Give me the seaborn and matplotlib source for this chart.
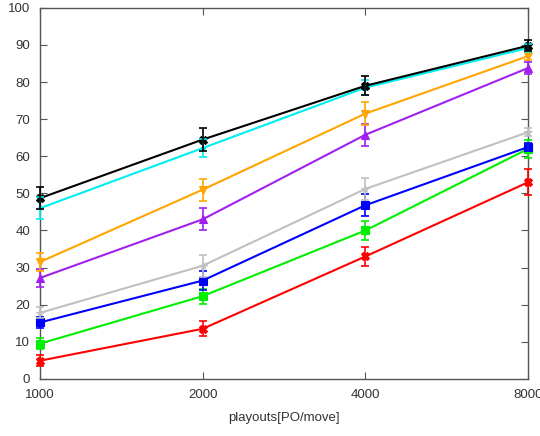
import matplotlib
matplotlib.use("Agg")
import matplotlib.pyplot as plt
import seaborn as sns
import pandas as pd
from matplotlib.ticker import FixedLocator, FixedFormatter, NullLocator

playouts = [1000, 2000, 4000, 8000]
x_tick_labels = ["1000", "2000", "4000", "8000"]

red = [4.9, 13.5, 33.0, 53.0]
green = [9.5, 22.3, 40.0, 62.0]
blue = [15.2, 26.5, 46.8, 62.5]
gray = [17.8, 30.5, 51.2, 66.5]
purple = [27.2, 43.0, 65.8, 83.8]
orange = [31.5, 51.0, 71.5, 87.0]
cyan = [46.0, 62.2, 78.5, 89.2]
black = [48.7, 64.5, 79.0, 89.8]

red_err = [1.5, 2.0, 2.5, 3.5]
green_err = [1.5, 2.0, 2.5, 2.5]
blue_err = [1.5, 2.5, 3.0, 1.0]
gray_err = [1.5, 3.0, 3.0, 1.0]
purple_err = [2.5, 3.0, 3.0, 1.5]
orange_err = [2.5, 3.0, 3.0, 1.0]
cyan_err = [3.0, 2.5, 2.0, 1.0]
black_err = [3.0, 3.0, 2.5, 1.5]

series = {
    "red": (red, red_err, "#ff0000", "X"),
    "green": (green, green_err, "#00ee00", "s"),
    "blue": (blue, blue_err, "#0000ff", "s"),
    "gray": (gray, gray_err, "#c0c0c0", "*"),
    "purple": (purple, purple_err, "#a020f0", "^"),
    "orange": (orange, orange_err, "#ffa500", "v"),
    "cyan": (cyan, cyan_err, "#00eeee", "."),
    "black": (black, black_err, "#000000", "X"),
}

rows = []
for name, (vals, errs, c, m) in series.items():
    for x, v in zip(playouts, vals):
        rows.append({"playouts": x, "win": v, "series": name})
df = pd.DataFrame(rows)

sns.set_style("white")
plt.rcParams["font.family"] = ["Liberation Sans", "DejaVu Sans"]

fig = plt.figure(figsize=(5.4, 4.36), dpi=100)
ax = fig.add_axes([0.074, 0.131, 0.904, 0.851])

palette = {k: v[2] for k, v in series.items()}
markers = {k: v[3] for k, v in series.items()}
sns.lineplot(data=df, x="playouts", y="win", hue="series", style="series",
             palette=palette, markers=markers, dashes=False, markersize=5.5,
             markeredgewidth=0.8, linewidth=1.5, ax=ax, legend=False)

for line in ax.lines:
    line.set_markeredgecolor(line.get_color())
    line.set_clip_on(False)

for name, (vals, errs, c, m) in series.items():
    eb = ax.errorbar(playouts, vals, yerr=errs, fmt="none", ecolor=c,
                     elinewidth=1.2, capsize=3, capthick=1.2, zorder=3)
    for part in eb.lines:
        if isinstance(part, tuple):
            for p in part:
                p.set_clip_on(False)
        elif part is not None:
            try:
                part.set_clip_on(False)
            except Exception:
                pass

ax.set_xscale("log", base=2)
ax.set_xlim(1000, 8000)
ax.set_ylim(0, 100)
ax.xaxis.set_major_locator(FixedLocator(playouts))
ax.xaxis.set_major_formatter(FixedFormatter(x_tick_labels))
ax.xaxis.set_minor_locator(NullLocator())
ax.set_yticks(range(0, 101, 10))

ax.set_xlabel("playouts[PO/move]", fontsize=9.5, color="#333333", labelpad=8)
ax.set_ylabel("")
for s in ax.spines.values():
    s.set_visible(True)
    s.set_color("#555555")
    s.set_linewidth(1.0)
    s.set_zorder(1)
ax.tick_params(axis="both", which="both", direction="in", length=5,
               width=0.8, color="#555555", labelsize=9.5, labelcolor="#333333",
               top=True, right=True, bottom=True, left=True, pad=7)

fig.savefig("out.png", dpi=100)
